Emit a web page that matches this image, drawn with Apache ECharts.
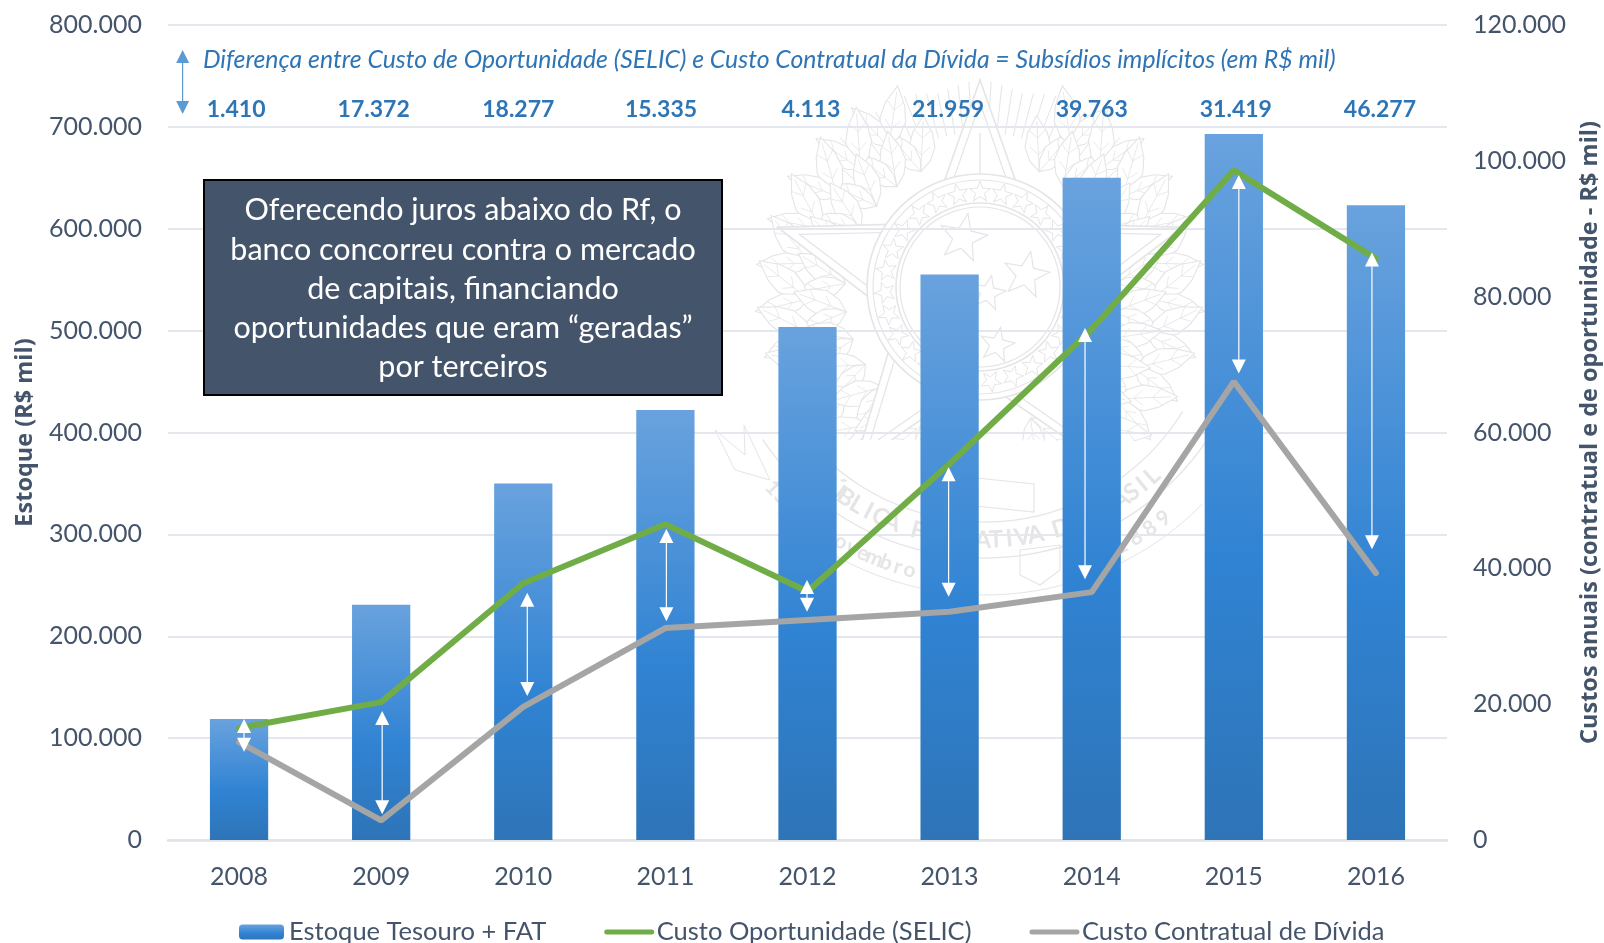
<!DOCTYPE html>
<html>
<head>
<meta charset="utf-8">
<style>html,body{margin:0;padding:0;background:#fff}#c{width:1604px;height:943px}</style>
<script src="https://cdn.jsdelivr.net/npm/echarts@6/dist/echarts.min.js"></script>
</head>
<body>
<div id="c"></div>
<script>
const years = ['2008','2009','2010','2011','2012','2013','2014','2015','2016'];
const estoque = [118700,231000,350000,422000,503500,555000,650000,693000,623000];
const custoSelic = [16500,20300,37800,46500,36600,55400,75200,98600,85600];
const custoContratual = [14400,2900,19600,31200,32400,33600,36500,67500,39300];
const subsidios = ['1.410','17.372','18.277','15.335','4.113','21.959','39.763','31.419','46.277'];
const arrowTop = [17800,19000,36400,45800,38300,54900,75400,97900,86500];
const arrowBottom = [13000,3800,21200,32200,33600,35800,38400,68700,42800];
const arrowShift = [5,1,4,1,-0.5,-1,-6.7,5,-4];
const subsidioShift = [-3,-7.5,-5,-4.4,3.5,-1.6,0,2,4];
const subsidioLevel = 717000;
const boxLines = ['Oferecendo juros abaixo do Rf, o','banco concorreu contra o mercado','de capitais, financiando','oportunidades que eram “geradas”','por terceiros'];
const heading = 'Diferença entre Custo de Oportunidade (SELIC) e Custo Contratual da Dívida = Subsídios implícitos (em R$ mil)';

const FONT = 'Lato';
const INK = '#44546A';
const BLUE = '#2E75B6';
const WM = '#E5E5E5';
const dots = v => String(v).replace(/\B(?=(\d{3})+$)/g, '.');

/* ---------- faint emblem watermark ---------- */
const wm = [];
const CX = 980, CY = 293;
function star(cx, cy, R, r, rot) {
  const p = [];
  for (let i = 0; i < 10; i++) {
    const a = (rot || 0) - Math.PI / 2 + i * Math.PI / 5, q = i % 2 ? r : R;
    p.push([cx + q * Math.cos(a), cy + q * Math.sin(a)]);
  }
  return p;
}
const poly = (points, w, fill) => wm.push({type: 'polygon', z: -1, silent: true, shape: {points}, style: {fill: fill || 'none', stroke: WM, lineWidth: w || 1.2}});
const pline = (points, w) => wm.push({type: 'polyline', z: -1, silent: true, shape: {points}, style: {fill: 'none', stroke: WM, lineWidth: w || 1.2}});
const ring = (r, w) => wm.push({type: 'circle', z: -1, silent: true, shape: {cx: CX, cy: CY - 6, r}, style: {fill: 'none', stroke: WM, lineWidth: w || 1.5}});
const arc = (r, a0, a1, w) => wm.push({type: 'arc', z: -1, silent: true, shape: {cx: CX + 5, cy: CY - 3, r, startAngle: a0, endAngle: a1}, style: {fill: 'none', stroke: WM, lineWidth: w || 1.2}});
function leaf(x, y, ang, len, wid) {
  const c = Math.cos(ang), s = Math.sin(ang), p = [];
  const prof = [[0,0],[.2,.7],[.45,1],[.7,.75],[1,0],[.7,-.75],[.45,-1],[.2,-.7]];
  prof.forEach(q => p.push([x + q[0]*len*c - q[1]*wid*s, y + q[0]*len*s + q[1]*wid*c]));
  poly(p, 1.1, '#FFFFFF');
  pline([[x, y], [x + len*.9*c, y + len*.9*s]], .9);
  [.3, .6].forEach(f => {
    const mx = x + f*len*c, my = y + f*len*s;
    [-1, 1].forEach(sd => pline([[mx, my], [mx + .14*len*c - sd*.6*wid*s, my + .14*len*s + sd*.6*wid*c]], .8));
  });
}
/* rays behind the star */
for (let d = -48; d <= 48; d += 3) {
  const a = d * Math.PI / 180;
  const jag = 10 * Math.abs(((d + 48) % 24) / 12 - 1);
  const R1 = 160, R2 = 204 + jag;
  pline([[CX + R1*Math.sin(a), CY - R1*Math.cos(a)], [CX + R2*Math.sin(a), CY - R2*Math.cos(a)]], 1);
}
/* wreath */
[-1, 1].forEach(side => {
  for (let deg = 26; deg <= 164; deg += 12) {
    const a = deg * Math.PI / 180;
    [135, 172].forEach((R, row) => {
      const dd = a + (row ? 6 * Math.PI / 180 : 0);
      const x = CX + side * R * Math.sin(dd), y = CY - R * Math.cos(dd);
      const out = Math.atan2(y - CY, x - CX);
      leaf(x, y, out + side * (row ? -.7 : -.5), row ? 62 : 56, 13);
      leaf(x, y, out + side * (row ? .2 : .25), row ? 54 : 50, 11);
    });
  }
});
/* main star, double outline */
poly(star(CX, CY, 213, 86), 1.6, '#FFFFFF');
poly(star(CX, CY, 190, 76), 1.2);
pline([[CX, 133], [CX, 173]], 1.4);
wm.push({type: 'circle', z: -1, silent: true, shape: {cx: CX, cy: CY - 6, r: 113}, style: {fill: '#FFFFFF', stroke: WM, lineWidth: 1.6}});
ring(107, 1.2); ring(84, 1.6); ring(80, 1.2);
for (let i = 0; i < 27; i++) {
  const a = i * 2 * Math.PI / 27;
  poly(star(CX + 95 * Math.sin(a), CY - 6 - 95 * Math.cos(a), 11, 4.6, a), 1);
}
[[963,238,25],[1026,275,24],[988,293,18],[997,345,18]].forEach(s => poly(star(s[0], s[1], s[2], s[2]*.42, .2), 1.2));
/* ribbon, sword hilt and lettering */
wm.push({type: 'arc', z: -1, silent: true, shape: {cx: CX + 5, cy: CY - 3, r: 268, startAngle: .6, endAngle: 2.55}, style: {fill: '#FFFFFF', stroke: WM, lineWidth: 1.3}});
arc(232, .55, 2.6, 1.3); arc(305, .78, 2.32, 1);
poly([[715,430],[745,455],[744,425],[770,480],[735,470]], 1);
poly([[976,478],[1034,484],[1034,512],[976,506]], 1.2);
poly([[1020,550],[1020,575],[1040,585],[1060,570],[1060,545]], 1.1);
function arcText(txt, R, d0, d1, size) {
  const chars = [...txt], n = chars.length;
  chars.forEach((ch, i) => {
    const d = d0 + (d1 - d0) * i / (n - 1), a = d * Math.PI / 180;
    wm.push({type: 'text', z: -1, silent: true, x: CX + 5 + R * Math.sin(a), y: CY - 3 + R * Math.cos(a), rotation: a,
      style: {text: ch, font: 'bold ' + size + 'px ' + FONT, fill: WM, align: 'center', verticalAlign: 'middle'}});
  });
}
arcText('REPÚBLICA FEDERATIVA DO BRASIL', 250, -46, 42, 24);
arcText('15 de novembro', 290, -47, -15, 21);
arcText('de 1889', 290, 18, 38, 21);

/* ---------- annotations ---------- */
const upHead = (x, y, s) => [[x, y], [x + s/2, y + s], [x - s/2, y + s]];
const downHead = (x, y, s) => [[x, y], [x + s/2, y - s], [x - s/2, y - s]];
const notes = [
  {type: 'rect', z: 50, silent: true, shape: {x: 204, y: 180, width: 518, height: 215}, style: {fill: '#44546A', stroke: '#000', lineWidth: 2}},
  {type: 'text', z: 51, silent: true, x: 463, y: 289, style: {text: boxLines.join('\n'), font: '30.5px ' + FONT, lineHeight: 39.3, fill: '#FFFFFF', align: 'center', verticalAlign: 'middle'}},
  {type: 'text', z: 51, silent: true, x: 203, y: 60, style: {text: heading, font: 'italic 24.8px ' + FONT, fill: BLUE, align: 'left', verticalAlign: 'middle'}},
  {type: 'line', z: 51, silent: true, shape: {x1: 182.6, y1: 55, x2: 182.6, y2: 110}, style: {stroke: '#5B9BD5', lineWidth: 1.2}},
  {type: 'polygon', z: 51, silent: true, shape: {points: upHead(182.6, 50, 13)}, style: {fill: '#5B9BD5'}},
  {type: 'polygon', z: 51, silent: true, shape: {points: downHead(182.6, 114, 13)}, style: {fill: '#5B9BD5'}}
];

const chart = echarts.init(document.getElementById('c'), null, {renderer: 'canvas'});
const noMarker = {opacity: 0};
const legendLine = {width: 5};
chart.setOption({
  animation: false,
  backgroundColor: '#fff',
  textStyle: {fontFamily: FONT},
  grid: {left: 168, right: 157, top: 25, bottom: 103, containLabel: false, outerBoundsMode: 'none'},
  legend: {
    data: [
      {name: 'Estoque Tesouro + FAT'},
      {name: 'Custo Oportunidade (SELIC)', itemStyle: noMarker, lineStyle: legendLine},
      {name: 'Custo Contratual de Dívida', itemStyle: noMarker, lineStyle: legendLine}
    ],
    left: 239, top: 919, itemWidth: 45, itemHeight: 15, itemGap: 58, padding: 0,
    textStyle: {fontFamily: FONT, fontSize: 25.5, color: INK}
  },
  xAxis: {
    type: 'category', data: years,
    axisTick: {show: false},
    axisLine: {lineStyle: {color: '#DFE4EA', width: 2.5}},
    axisLabel: {fontFamily: FONT, fontSize: 25, color: INK, margin: 24}
  },
  yAxis: [{
    type: 'value', min: 0, max: 800000, interval: 100000,
    name: 'Estoque (R$ mil)', nameLocation: 'middle', nameGap: 131, nameRotate: 90,
    nameTextStyle: {fontFamily: 'Open Sans', fontWeight: 'bold', fontSize: 23.5, color: INK},
    axisLine: {show: false}, axisTick: {show: false},
    splitLine: {lineStyle: {color: '#E4E8EE', width: 2}},
    axisLabel: {fontFamily: FONT, fontSize: 25, color: INK, margin: 26, formatter: dots}
  }, {
    type: 'value', min: 0, max: 120000, interval: 20000,
    name: 'Custos anuais (contratual e de oportunidade - R$ mil)', nameLocation: 'middle', nameGap: 131, nameRotate: 90,
    nameTextStyle: {fontFamily: 'Open Sans', fontWeight: 'bold', fontSize: 23.5, color: INK},
    axisLine: {show: false}, axisTick: {show: false}, splitLine: {show: false},
    axisLabel: {fontFamily: FONT, fontSize: 25, color: INK, margin: 26, formatter: dots}
  }],
  series: [{
    name: 'Estoque Tesouro + FAT', type: 'bar', data: estoque, barWidth: '41%',
    itemStyle: {color: new echarts.graphic.LinearGradient(0, 0, 0, 1, [
      {offset: 0, color: '#69A2DE'}, {offset: .6, color: '#3083D3'}, {offset: 1, color: '#2E74B7'}])}
  }, {
    name: 'Custo Oportunidade (SELIC)', type: 'line', yAxisIndex: 1, data: custoSelic, symbol: 'none', z: 3,
    lineStyle: {color: '#70AD47', width: 6, cap: 'round'}, itemStyle: {color: '#70AD47'}
  }, {
    name: 'Custo Contratual de Dívida', type: 'line', yAxisIndex: 1, data: custoContratual, symbol: 'none', z: 3,
    lineStyle: {color: '#A5A5A5', width: 6, cap: 'round'}, itemStyle: {color: '#A5A5A5'}
  }, {
    type: 'custom', name: 'Diferença', yAxisIndex: 1, z: 5, silent: true,
    data: years.map((y, i) => [i, arrowTop[i], arrowBottom[i]]),
    encode: {x: 0, y: [1, 2]},
    renderItem(params, api) {
      const i = api.value(0);
      const t = api.coord([i, api.value(1)]), b = api.coord([i, api.value(2)]);
      const x = t[0] + arrowShift[i], s = 14;
      const white = {fill: '#FFFFFF'};
      return {type: 'group', children: [
        {type: 'line', shape: {x1: x, y1: t[1] + 4, x2: x, y2: b[1] - 4}, style: {stroke: '#FFFFFF', lineWidth: 1.2}},
        {type: 'polygon', shape: {points: upHead(x, t[1], s)}, style: white},
        {type: 'polygon', shape: {points: downHead(x, b[1], s)}, style: white}
      ]};
    }
  }, {
    type: 'custom', name: 'Subsídios', z: 6, silent: true,
    data: years.map((y, i) => [i, subsidioLevel]),
    encode: {x: 0, y: 1},
    renderItem(params, api) {
      const i = api.value(0), p = api.coord([i, api.value(1)]);
      return {type: 'text', x: p[0] + subsidioShift[i], y: p[1],
        style: {text: subsidios[i], font: 'bold 23px ' + FONT, fill: BLUE, align: 'center', verticalAlign: 'middle'}};
    }
  }],
  graphic: {elements: wm.concat(notes)}
});
</script>
</body>
</html>
